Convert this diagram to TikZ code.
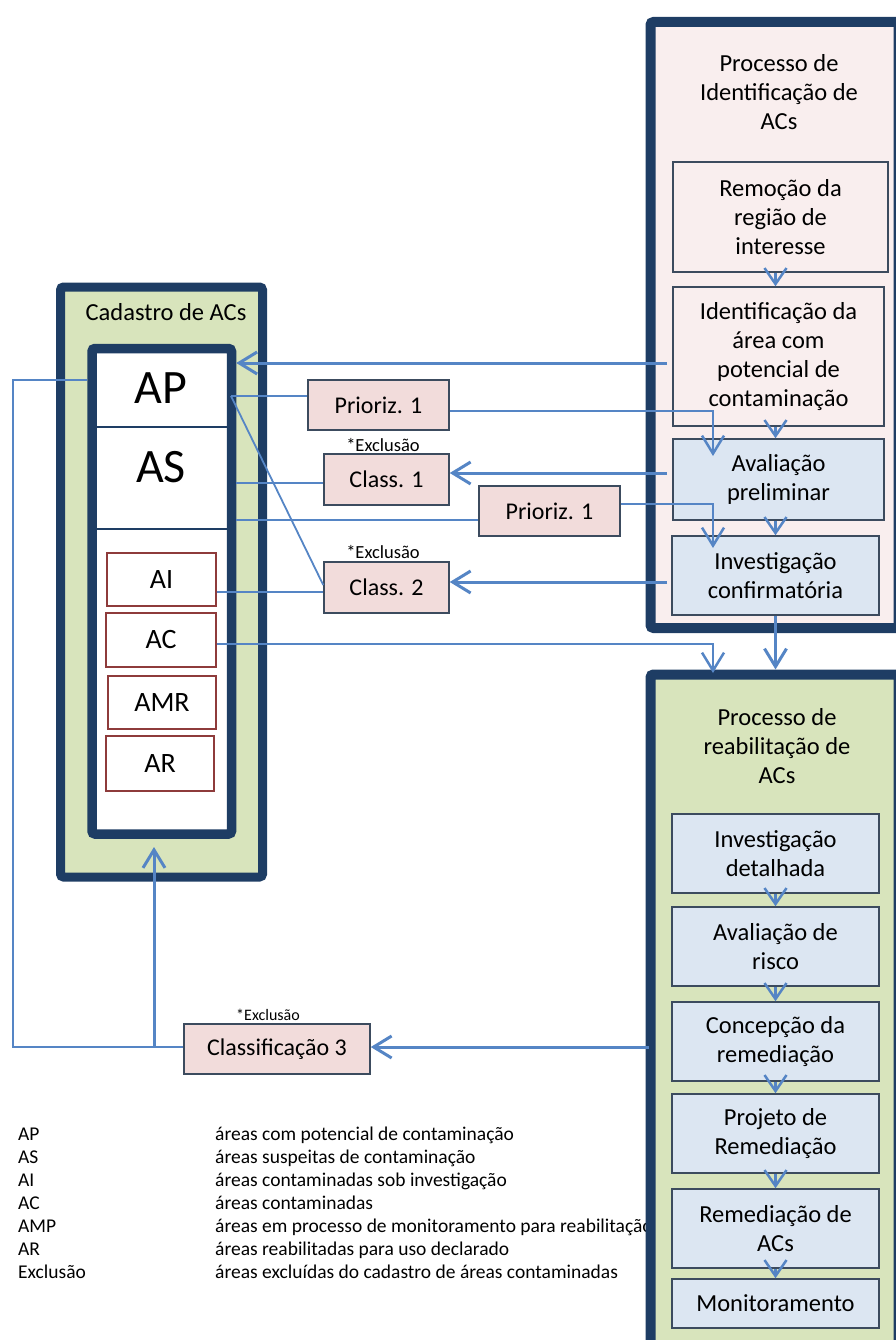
\documentclass[tikz,border=0pt]{standalone}
\usepackage{fontspec}
\setmainfont{Carlito}
\usetikzlibrary{arrows.meta}
\definecolor{navy}{HTML}{1E3D64}
\definecolor{cadgreen}{HTML}{D8E4BC}
\definecolor{idpink}{HTML}{F9EEEE}
\definecolor{tagpink}{HTML}{F2DCDB}
\definecolor{stepblue}{HTML}{DCE6F2}
\definecolor{flow}{HTML}{5585C5}
\definecolor{boxline}{HTML}{3C4B5E}
\definecolor{catline}{HTML}{8E3B3B}
\begin{document}
\begin{tikzpicture}[x=1pt,y=-1pt,
  panel/.style={draw=navy,line width=10pt,rounded corners=3pt,inner sep=0pt},
  proc/.style={draw=boxline,line width=1.5pt,inner sep=0pt,align=center,font=\fontsize{24.5}{29}\selectfont},
  tag/.style={draw=boxline,fill=tagpink,line width=1.5pt,inner sep=0pt,font=\fontsize{24}{29}\selectfont},
  cat/.style={draw=catline,fill=white,line width=1.2pt,inner sep=0pt,font=\fontsize{28}{30}\selectfont},
  big/.style={inner sep=0pt,font=\fontsize{48}{50}\selectfont},
  note/.style={inner sep=0pt,font=\fontsize{18.5}{20}\selectfont},
  title/.style={inner sep=0pt,align=center,font=\fontsize{24.5}{29}\selectfont},
  legend/.style={anchor=base west,inner sep=0pt,font=\fontsize{19.5}{23}\selectfont},
  link/.style={draw=flow,line width=1.8pt},
  linkarrow/.style={link,-{Straight Barb[length=18pt,width=22pt,line width=2.5pt]}},
  flowarrow/.style={draw=flow,line width=3pt,-{Straight Barb[length=18pt,width=22pt]}},
  stepar/.style={draw=flow,line width=2.5pt,-{Straight Barb[length=16pt,width=22pt]}}]
\useasboundingbox (0,0) rectangle (896,1340);
\clip (0,0) rectangle (896,1340);

% legend
\foreach \abbr/\desc [count=\i from 0] in {AP/áreas com potencial de contaminação,AS/áreas suspeitas de contaminação,AI/áreas contaminadas sob investigação,AC/áreas contaminadas,AMP/áreas em processo de monitoramento para reabilitação,AR/áreas reabilitadas para uso declarado,Exclusão/áreas excluídas do cadastro de áreas contaminadas}{
  \node[legend] (key\i) at (18,{1140+23*\i}) {\abbr};
  \node[legend] (def\i) at (215,{1140+23*\i}) {\desc};
}

% panels
\node[panel,line width=9pt,fill=cadgreen,minimum width=202pt,minimum height=590pt] (cadpanel) at (161.5,582) {};
\node[panel,line width=9.5pt,fill=white,minimum width=139.5pt,minimum height=485.5pt] (cadbox) at (161.75,591.25) {};
\node[panel,fill=idpink,minimum width=248pt,minimum height=606pt] (idpanel) at (774.5,325) {};
\node[panel,fill=cadgreen,minimum width=248pt,minimum height=686pt] (rehabpanel) at (774.5,1017.5) {};
\draw[navy,line width=1.5pt] (97,427) -- (227,427);
\draw[navy,line width=1.5pt] (97,529) -- (227,529);

% titles
\node[title] (cadtitle) at (166,312) {Cadastro de ACs};
\node[title] (idtitle) at (779,92.5) {Processo de\\Identificação de\\ACs};
\node[title] (rehabtitle) at (777,746) {Processo de\\reabilitação de\\ACs};

% cadastro
\node[big] (ap) at (161,388) {AP};
\node[big] (as) at (161,467) {AS};
\node[cat,minimum width=109pt,minimum height=53pt] (ai) at (161.5,579.5) {AI};
\node[cat,minimum width=110pt,minimum height=54pt] (ac) at (161,640) {AC};
\node[cat,minimum width=108pt,minimum height=53pt] (amr) at (162,702.5) {AMR};
\node[cat,minimum width=108pt,minimum height=55pt] (ar) at (160,763.5) {AR};

% classes
\node[tag,minimum width=141pt,minimum height=50pt] (prio1) at (378.5,405) {Prioriz. 1};
\node[tag,minimum width=125pt,minimum height=51pt] (class1) at (386.5,479.5) {Class. 1};
\node[tag,minimum width=125pt,minimum height=51pt] (class2) at (386.5,587.5) {Class. 2};
\node[tag,minimum width=141pt,minimum height=50pt] (prio2) at (549.5,511) {Prioriz. 1};
\node[tag,minimum width=186pt,minimum height=50pt] (class3) at (277,1049) {Classificação 3};
\node[note] (excl1) at (383,445) {*Exclusão};
\node[note] (excl2) at (383,552) {*Exclusão};
\node[note,font=\fontsize{16}{18}\selectfont] (excl3) at (268,1015) {*Exclusão};

% identificacao
\node[proc,fill=idpink,minimum width=215pt,minimum height=110pt] (remocao) at (780.5,217) {Remoção da\\região de\\interesse};
\node[proc,fill=idpink,minimum width=211pt,minimum height=139pt] (identif) at (778.5,356.5) {Identificação da\\área com\\potencial de\\contaminação};
\node[proc,fill=stepblue,minimum width=211pt,minimum height=81pt] (avalpre) at (778.5,479.5) {Avaliação\\preliminar};
\node[proc,fill=stepblue,minimum width=207pt,minimum height=79pt] (invconf) at (775.5,575.5) {Investigação\\confirmatória};

% reabilitacao
\node[proc,fill=stepblue,minimum width=207pt,minimum height=79pt] (invdet) at (775.5,853.5) {Investigação\\detalhada};
\node[proc,fill=stepblue,minimum width=207pt,minimum height=79pt] (avalrisco) at (775.5,946.5) {Avaliação de\\risco};
\node[proc,fill=stepblue,minimum width=207pt,minimum height=79pt] (concep) at (775.5,1041.5) {Concepção da\\remediação};
\node[proc,fill=stepblue,minimum width=207pt,minimum height=79pt] (projeto) at (775.5,1133.5) {Projeto de\\Remediação};
\node[proc,fill=stepblue,minimum width=207pt,minimum height=79pt] (remed) at (775.5,1228.5) {Remediação de\\ACs};
\node[proc,fill=stepblue,minimum width=207pt,minimum height=49pt] (monit) at (775.5,1303.5) {Monitoramento};

% connectors
\coordinate (fromid1) at (667,363);
\coordinate (fromid2) at (667,473);
\coordinate (fromid3) at (667,582);
\coordinate (fromrehab) at (649,1047);
\coordinate (tip1) at (713,456);
\coordinate (tip2) at (713,548);
\coordinate (tip3) at (713,673);
\coordinate (apout) at (231,396);
\coordinate (rise) at (154,1047);

\foreach \a/\b in {remocao/identif,identif/avalpre,avalpre/invconf}
  \draw[stepar] (\a.south -| invconf.north) -- (\b.north -| invconf.north);
\foreach \a/\b in {invdet/avalrisco,avalrisco/concep,concep/projeto,projeto/remed,remed/monit}
  \draw[stepar] (\a.south) -- (\b.north);

\draw[flowarrow] (fromid1) -- (fromid1 -| cadbox.east);
\draw[flowarrow] (fromid2) -- (fromid2 -| class1.east);
\draw[flowarrow] (fromid3) -- (fromid3 -| class2.east);
\draw[flowarrow] (fromrehab) -- (fromrehab -| class3.east);
\draw[flowarrow] (invconf.south) -- (invconf.south |- rehabpanel.north);
\draw[flowarrow] (rise) -- (rise |- 0,847);

\draw[linkarrow] (prio1.east |- 0,411) -| (tip1);
\draw[linkarrow] (prio2.east |- 0,504) -| (tip2);
\draw[linkarrow] (ac.east |- 0,644) -| (tip3);

\draw[link] (apout) -- (prio1.west |- apout);
\draw[link] (apout) -- (class2.west |- 0,585);
\draw[link] (cadbox.east |- 0,483) -- (class1.west |- 0,483);
\draw[link] (cadbox.east |- 0,520) -- (prio2.west |- 0,520);
\draw[link] (ai.east |- 0,592) -- (class2.west |- 0,592);
\draw[link] (cadbox.west |- 0,380) -| (rise -| 13,0) -- (class3.west |- rise);
\end{tikzpicture}
\end{document}
